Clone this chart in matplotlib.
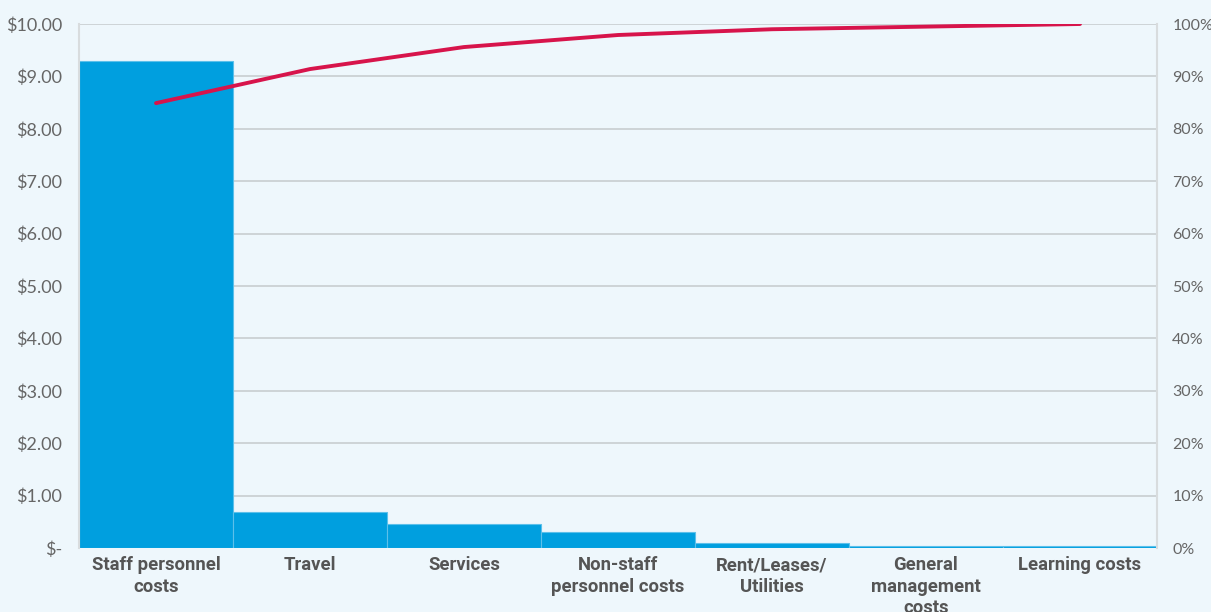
import matplotlib.pyplot as plt
from matplotlib.ticker import FuncFormatter, PercentFormatter

categories = [
    "Staff personnel\ncosts",
    "Travel",
    "Services",
    "Non-staff\npersonnel costs",
    "Rent/Leases/\nUtilities",
    "General\nmanagement\ncosts",
    "Learning costs",
]
costs = [9.30, 0.69, 0.46, 0.30, 0.10, 0.04, 0.03]
cumulative_pct = [84.9, 91.4, 95.6, 97.9, 99.0, 99.5, 100.0]

BG = "#eef7fc"
BAR = "#009fdf"
LINE = "#d7144b"
GRID = "#c8cdd0"

fig = plt.figure(figsize=(12.11, 6.12), dpi=100, facecolor=BG)
ax = fig.add_axes([79 / 1211, 1 - 548 / 612, (1157 - 79) / 1211, (548 - 24) / 612])
ax.set_facecolor(BG)

x = range(len(categories))
ax.bar(x, costs, width=1.0, color=BAR, edgecolor="#5cc0ea", linewidth=0.8, zorder=2)
ax.set_xlim(-0.5, len(categories) - 0.5)
ax.set_ylim(0, 10)
ax.set_yticks(range(0, 11))
ax.yaxis.set_major_formatter(FuncFormatter(lambda v, p: "$-" if v == 0 else f"${v:.2f}"))
ax.grid(axis="y", color=GRID, linewidth=1.2, zorder=0)
ax.set_xticks(list(x))
ax.set_xticklabels(categories, fontfamily="Roboto", fontweight="bold", fontsize=13.3,
                   color="#555555", linespacing=1.25, va="top")
ax.tick_params(axis="x", length=0, pad=6)
ax.tick_params(axis="y", length=0, pad=12, labelsize=13, labelcolor="#666666")
for lab in ax.get_yticklabels():
    lab.set_fontfamily("Lato")
for side in ["top", "bottom"]:
    ax.spines[side].set_visible(False)
ax.spines["left"].set_color("#d8dcde")
ax.spines["right"].set_color("#d8dcde")
ax.spines["left"].set_linewidth(1.5)
ax.spines["right"].set_linewidth(1.5)

ax2 = ax.twinx()
ax2.plot(list(x), cumulative_pct, color=LINE, linewidth=2.8, solid_capstyle="round", zorder=3)
ax2.set_ylim(0, 100)
ax2.set_yticks(range(0, 101, 10))
ax2.yaxis.set_major_formatter(PercentFormatter(decimals=0))
ax2.tick_params(axis="y", length=0, pad=11, labelsize=11.5, labelcolor="#666666")
for lab in ax2.get_yticklabels():
    lab.set_fontfamily("Lato")
for side in ["top", "bottom", "left", "right"]:
    ax2.spines[side].set_visible(False)

fig.savefig("out.png", dpi=100, facecolor=BG)
